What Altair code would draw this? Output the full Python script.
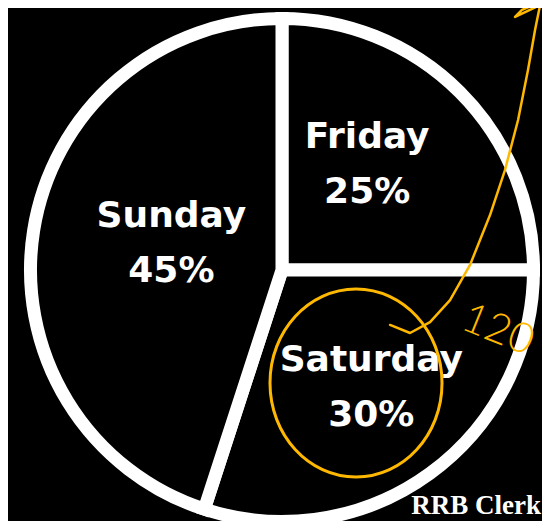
import altair as alt
import pandas as pd

# ---- data ----
days = ["Friday", "Saturday", "Sunday"]
pcts = [25, 30, 45]
note_text = ["120"]
source_text = ["RRB Clerk"]

df = pd.DataFrame({"day": days, "pct": pcts})

W, H = 534, 513
CX, CY = 274, 262          # pie centre inside the chart
R_OUT = 251.5              # path radius (stroke adds 6.5 px outside)

theta_scale = alt.Scale(domain=[0, 100])

arc = (
    alt.Chart(df)
    .transform_window(idx="row_number()")
    .mark_arc(outerRadius=R_OUT, fill="black", stroke="white", strokeWidth=13,
              strokeJoin="miter")
    .encode(
        theta=alt.Theta("pct:Q", stack=True, scale=theta_scale),
        order=alt.Order("idx:Q"),
        x=alt.value(CX),
        y=alt.value(CY),
    )
)

label_base = (
    alt.Chart(df)
    .transform_window(cum="sum(pct)", frame=[None, 0])
    .transform_calculate(
        mid="datum.cum - datum.pct / 2",
        label="datum.day + '\\n' + datum.pct + '%'",
    )
)

label_style = {
    "Friday": dict(radius=136, dx=-11, dy=-37),
    "Saturday": dict(radius=157, dx=-3, dy=-37),
    "Sunday": dict(radius=112, dx=0, dy=-36),
}

labels = []
for d in days:
    st = label_style[d]
    labels.append(
        label_base.transform_filter(alt.datum.day == d)
        .mark_text(
            font="DejaVu Sans", fontWeight="bold", fontSize=36, color="white",
            lineBreak="\n", lineHeight=55, align="center", baseline="middle",
            **st,
        )
        .encode(
            theta=alt.Theta("mid:Q", stack=None, scale=theta_scale),
            text="label:N",
            x=alt.value(CX),
            y=alt.value(CY),
        )
    )

YELLOW = "#FFB800"

# yellow hand-drawn ring around the Saturday label
ring = (
    alt.Chart(pd.DataFrame({"day": ["Saturday"]}))
    .mark_point(
        shape="M -0.915,0 A 0.915,1 0 1,0 0.915,0 A 0.915,1 0 1,0 -0.915,0",
        size=188 * 188, filled=False, stroke=YELLOW, strokeWidth=3, opacity=1,
    )
    .encode(x=alt.value(348), y=alt.value(375))
)

# long yellow hand-drawn stroke on the right side
stroke_path = (
    "M -0.458,0.940 L -0.339,0.988 L -0.220,0.923 L -0.101,0.792 L 0.018,0.583 "
    "L 0.137,0.286 L 0.226,0.018 L 0.304,-0.280 L 0.363,-0.577 L 0.405,-0.815 "
    "L 0.435,-0.964 L 0.286,-0.893 L 0.327,-0.935 L 0.423,-0.976 L 0.464,-0.994"
)
scribble = (
    alt.Chart(pd.DataFrame({"day": ["Saturday"]}))
    .mark_point(shape=stroke_path, size=336 * 336, filled=False, stroke=YELLOW,
                strokeWidth=2.5, opacity=1, strokeJoin="round", strokeCap="round")
    .encode(x=alt.value(459), y=alt.value(159))
)

note = (
    alt.Chart(pd.DataFrame({"t": note_text}))
    .mark_text(font="Lato", fontWeight=300, fontSize=42, color=YELLOW,
               angle=22, align="center", baseline="middle")
    .encode(text="t:N", x=alt.value(490), y=alt.value(322))
)

source = (
    alt.Chart(pd.DataFrame({"t": source_text}))
    .mark_text(font="Liberation Serif", fontWeight="bold", fontSize=27,
               color="white", align="right", baseline="alphabetic")
    .encode(text="t:N", x=alt.value(533), y=alt.value(506))
)

chart = (
    alt.layer(arc, *labels, ring, scribble, note, source)
    .properties(width=W, height=H, autosize=alt.AutoSizeParams(type="none"),
                padding=0, background="black")
    .configure_view(strokeWidth=0)
)

chart.save("out.html", embed_options={"renderer": "svg", "actions": False})
